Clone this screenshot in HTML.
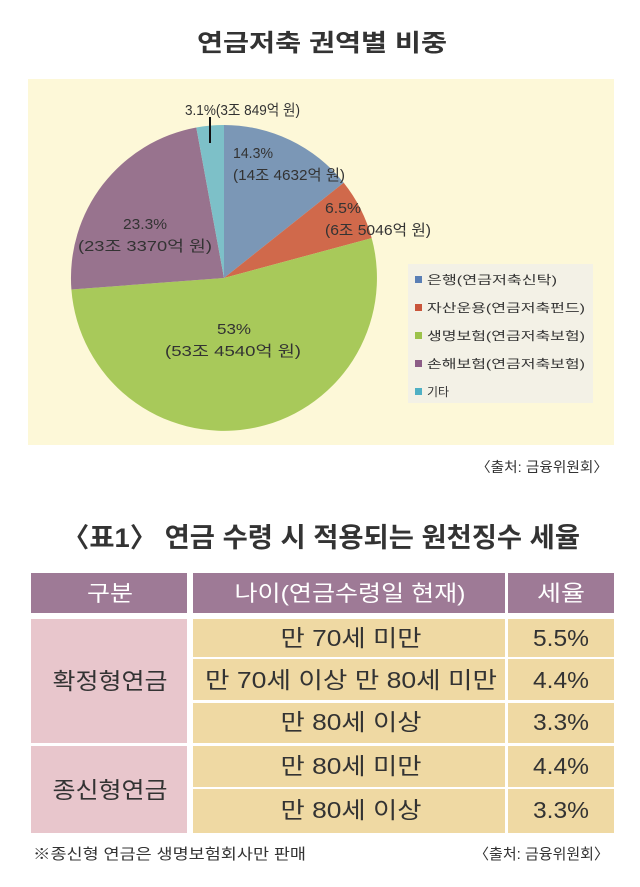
<!DOCTYPE html>
<html><head><meta charset="utf-8"><style>
html,body{margin:0;padding:0;background:#fff;}
svg{display:block;}
text{font-family:"Liberation Sans","Noto Sans CJK KR","NanumGothic",sans-serif;}
</style></head><body>
<svg width="640" height="887" viewBox="0 0 640 887" xmlns="http://www.w3.org/2000/svg">
<rect width="640" height="887" fill="#fff"/>
<text x="322" y="51" font-size="24" font-weight="bold" fill="#333" text-anchor="middle" textLength="250" lengthAdjust="spacingAndGlyphs">연금저축 권역별 비중</text>
<rect x="28" y="79" width="586" height="366" fill="#fdf8d8"/>
<path d="M224,278 L224,125 A153,153 0 0 1 343.7,182.8 Z" fill="#7b97b6"/>
<path d="M224,278 L343.7,182.8 A153,153 0 0 1 371.7,238.1 Z" fill="#d0694b"/>
<path d="M224,278 L371.7,238.1 A153,153 0 1 1 71.4,289.5 Z" fill="#a8c95a"/>
<path d="M224,278 L71.4,289.5 A153,153 0 0 1 196.3,127.5 Z" fill="#98738e"/>
<path d="M224,278 L196.3,127.5 A153,153 0 0 1 224,125 Z" fill="#7dc0c8"/>
<line x1="210" y1="117" x2="210" y2="143" stroke="#111" stroke-width="2"/>
<g font-size="15" fill="#333">
<text x="185" y="115" textLength="115" lengthAdjust="spacingAndGlyphs">3.1%(3조 849억 원)</text>
<text x="233" y="158" textLength="40" lengthAdjust="spacingAndGlyphs">14.3%</text>
<text x="233" y="180" textLength="112" lengthAdjust="spacingAndGlyphs">(14조 4632억 원)</text>
<text x="325" y="213" textLength="36" lengthAdjust="spacingAndGlyphs">6.5%</text>
<text x="325" y="235" textLength="106" lengthAdjust="spacingAndGlyphs">(6조 5046억 원)</text>
<text x="145" y="229" text-anchor="middle" textLength="44" lengthAdjust="spacingAndGlyphs">23.3%</text>
<text x="145" y="251" text-anchor="middle" textLength="134" lengthAdjust="spacingAndGlyphs">(23조 3370억 원)</text>
<text x="234" y="334" text-anchor="middle" textLength="34" lengthAdjust="spacingAndGlyphs">53%</text>
<text x="233" y="356" text-anchor="middle" textLength="136" lengthAdjust="spacingAndGlyphs">(53조 4540억 원)</text>
</g>
<rect x="408" y="264" width="185" height="139" fill="#f3f1e6"/>
<g font-size="12" fill="#333">
<rect x="415" y="276" width="7" height="7" fill="#5a7fb5"/><text x="427" y="284" textLength="130" lengthAdjust="spacingAndGlyphs">은행(연금저축신탁)</text>
<rect x="415" y="304" width="7" height="7" fill="#c9553a"/><text x="427" y="312" textLength="158" lengthAdjust="spacingAndGlyphs">자산운용(연금저축펀드)</text>
<rect x="415" y="332" width="7" height="7" fill="#9cc24a"/><text x="427" y="340" textLength="158" lengthAdjust="spacingAndGlyphs">생명보험(연금저축보험)</text>
<rect x="415" y="360" width="7" height="7" fill="#8c5d86"/><text x="427" y="368" textLength="158" lengthAdjust="spacingAndGlyphs">손해보험(연금저축보험)</text>
<rect x="415" y="388" width="7" height="7" fill="#4fb0c4"/><text x="427" y="396">기타</text>
</g>
<text x="608" y="472" font-size="14" fill="#333" text-anchor="end" textLength="132" lengthAdjust="spacingAndGlyphs">〈출처: 금융위원회〉</text>
<text x="321" y="547" font-size="27" font-weight="bold" fill="#333" text-anchor="middle" textLength="518" lengthAdjust="spacingAndGlyphs">〈표1〉 연금 수령 시 적용되는 원천징수 세율</text>
<rect x="31" y="573" width="156" height="40" fill="#9e7a96"/>
<rect x="193" y="573" width="312" height="40" fill="#9e7a96"/>
<rect x="508" y="573" width="106" height="40" fill="#9e7a96"/>
<g font-size="22" fill="#fff" text-anchor="middle">
<text x="110" y="601" textLength="46" lengthAdjust="spacingAndGlyphs">구분</text>
<text x="350" y="601" textLength="231" lengthAdjust="spacingAndGlyphs">나이(연금수령일 현재)</text>
<text x="561" y="601" textLength="48" lengthAdjust="spacingAndGlyphs">세율</text>
</g>
<rect x="31" y="619" width="156" height="124" fill="#e8c6cc"/>
<rect x="31" y="746" width="156" height="87" fill="#e8c6cc"/>
<g fill="#efd9a3">
<rect x="193" y="619" width="312" height="38"/><rect x="508" y="619" width="106" height="38"/>
<rect x="193" y="659" width="312" height="41"/><rect x="508" y="659" width="106" height="41"/>
<rect x="193" y="703" width="312" height="40"/><rect x="508" y="703" width="106" height="40"/>
<rect x="193" y="746" width="312" height="41"/><rect x="508" y="746" width="106" height="41"/>
<rect x="193" y="789" width="312" height="44"/><rect x="508" y="789" width="106" height="44"/>
</g>
<g font-size="23" fill="#333" text-anchor="middle">
<text x="110" y="689" textLength="115" lengthAdjust="spacingAndGlyphs">확정형연금</text>
<text x="110" y="798" textLength="115" lengthAdjust="spacingAndGlyphs">종신형연금</text>
<text x="351" y="646" textLength="141" lengthAdjust="spacingAndGlyphs">만 70세 미만</text>
<text x="351" y="688" textLength="292" lengthAdjust="spacingAndGlyphs">만 70세 이상 만 80세 미만</text>
<text x="351" y="730" textLength="141" lengthAdjust="spacingAndGlyphs">만 80세 이상</text>
<text x="351" y="774" textLength="141" lengthAdjust="spacingAndGlyphs">만 80세 미만</text>
<text x="351" y="818" textLength="141" lengthAdjust="spacingAndGlyphs">만 80세 이상</text>
<text x="561" y="646" textLength="56" lengthAdjust="spacingAndGlyphs">5.5%</text>
<text x="561" y="688" textLength="56" lengthAdjust="spacingAndGlyphs">4.4%</text>
<text x="561" y="730" textLength="56" lengthAdjust="spacingAndGlyphs">3.3%</text>
<text x="561" y="774" textLength="56" lengthAdjust="spacingAndGlyphs">4.4%</text>
<text x="561" y="818" textLength="56" lengthAdjust="spacingAndGlyphs">3.3%</text>
</g>
<text x="33" y="859" font-size="15" fill="#333" textLength="273" lengthAdjust="spacingAndGlyphs">※종신형 연금은 생명보험회사만 판매</text>
<text x="609" y="859" font-size="15" fill="#333" text-anchor="end" textLength="135" lengthAdjust="spacingAndGlyphs">〈출처: 금융위원회〉</text>
</svg>
</body></html>
